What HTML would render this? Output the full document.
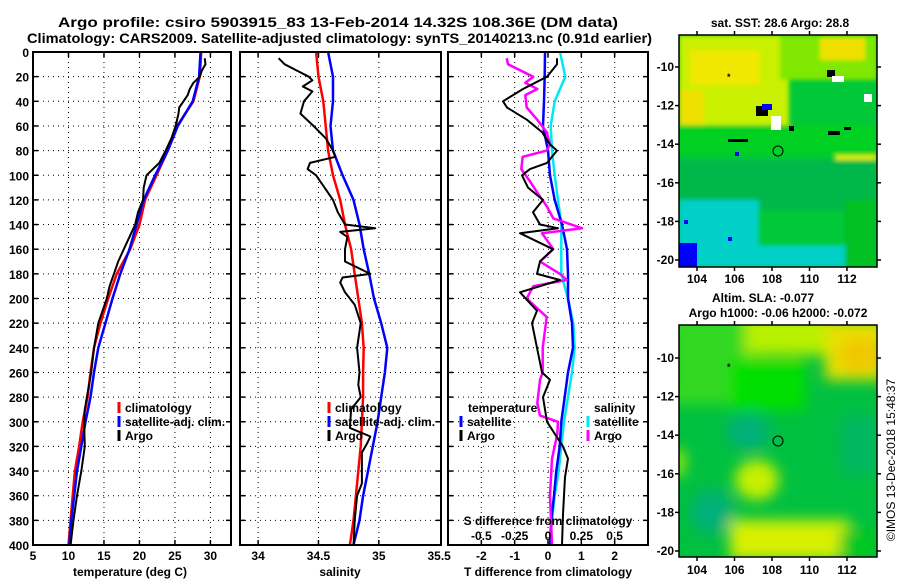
<!DOCTYPE html>
<html><head><meta charset="utf-8">
<style>
html,body{margin:0;padding:0;background:#fff;}
svg{display:block;font-family:"Liberation Sans",sans-serif;font-weight:bold;}
</style></head>
<body>
<svg id="fig" width="900" height="580" viewBox="0 0 900 580" xmlns="http://www.w3.org/2000/svg">
<defs>
<clipPath id="clipP1"><rect x="33" y="52" width="198" height="493"/></clipPath>
<clipPath id="clipP2"><rect x="240" y="52" width="201" height="493"/></clipPath>
<clipPath id="clipP3"><rect x="448" y="52" width="200" height="493"/></clipPath>
<clipPath id="clipM1"><rect x="679" y="35" width="198" height="232"/></clipPath>
<clipPath id="clipM2"><rect x="679" y="325" width="198" height="232"/></clipPath>
<filter id="blur1" x="-20%" y="-20%" width="140%" height="140%"><feGaussianBlur stdDeviation="2"/></filter>
<filter id="blur2" x="-20%" y="-20%" width="140%" height="140%"><feGaussianBlur stdDeviation="7"/></filter>
</defs>
<text x="58" y="27" font-size="14" textLength="560" lengthAdjust="spacingAndGlyphs">Argo profile: csiro 5903915_83 13-Feb-2014 14.32S 108.36E (DM data)</text>
<text x="27" y="43" font-size="14" textLength="625" lengthAdjust="spacingAndGlyphs">Climatology: CARS2009. Satellite-adjusted climatology: synTS_20140213.nc (0.91d earlier)</text>

<g id="maps">
 <text x="780" y="27" font-size="12" text-anchor="middle">sat. SST: 28.6 Argo: 28.8</text>
 <g clip-path="url(#clipM1)">
  <rect x="679" y="35" width="198" height="232" fill="#00c838"/>
  <g filter="url(#blur1)">
   <rect x="679" y="35" width="110" height="95" fill="#c8f000"/>
   <rect x="690" y="50" width="70" height="35" fill="#f0e800"/>
   <rect x="679" y="90" width="25" height="35" fill="#f0e000"/>
   <rect x="780" y="35" width="97" height="45" fill="#80e800"/>
   <rect x="820" y="38" width="45" height="22" fill="#f0e000"/>
   <rect x="835" y="125" width="42" height="35" fill="#e0f000"/>
   <rect x="679" y="125" width="198" height="30" fill="#00d020"/>
   <rect x="679" y="160" width="198" height="50" fill="#00b848"/>
   <rect x="679" y="200" width="80" height="67" fill="#00d0c8"/>
   <rect x="750" y="245" width="95" height="22" fill="#00d0c8"/>
   <rect x="845" y="200" width="32" height="67" fill="#00c020"/>
  </g>
  <rect x="679" y="243" width="18" height="24" fill="#0000ff"/>
  <rect x="756" y="106" width="12" height="10" fill="#000"/>
  <rect x="762" y="104" width="10" height="6" fill="#0000ff"/>
  <rect x="827" y="70" width="8" height="7" fill="#000"/>
  <rect x="728" y="139" width="20" height="3" fill="#000"/>
  <rect x="828" y="131" width="12" height="4" fill="#000"/>
  <rect x="844" y="127" width="7" height="3" fill="#000"/>
  <rect x="771" y="116" width="10" height="14" fill="#fff"/>
  <rect x="832" y="76" width="12" height="6" fill="#fff"/>
  <rect x="864" y="94" width="8" height="8" fill="#fff"/>
  <rect x="789" y="126" width="5" height="5" fill="#000"/>
  <rect x="735" y="152" width="4" height="4" fill="#0000ff"/>
  <rect x="684" y="220" width="4" height="4" fill="#0000ff"/>
  <rect x="728" y="237" width="4" height="4" fill="#0000ff"/>
 </g>
 <rect x="679" y="35" width="198" height="232" fill="none" stroke="#000" stroke-width="1.5"/>
 <circle cx="778" cy="151" r="5" fill="none" stroke="#000" stroke-width="1"/>
 <text x="727" y="80" font-size="9">*</text>
 <text x="763" y="302" font-size="12" text-anchor="middle">Altim. SLA: -0.077</text>
 <text x="778" y="317" font-size="12" text-anchor="middle">Argo h1000: -0.06 h2000: -0.072</text>
 <g clip-path="url(#clipM2)">
  <rect x="679" y="325" width="198" height="232" fill="#00c040"/>
  <g filter="url(#blur2)">
   <rect x="670" y="315" width="80" height="90" fill="#30d820"/>
   <rect x="745" y="315" width="85" height="40" fill="#b8f000"/>
   <rect x="825" y="320" width="60" height="60" fill="#e8e000"/>
   <ellipse cx="860" cy="355" rx="22" ry="18" fill="#f0c800"/>
   <rect x="730" y="360" width="75" height="50" fill="#00e000"/>
   <ellipse cx="748" cy="432" rx="22" ry="18" fill="#00b078"/>
   <ellipse cx="712" cy="512" rx="22" ry="22" fill="#00b078"/>
   <ellipse cx="757" cy="480" rx="22" ry="20" fill="#c8f000"/>
   <rect x="730" y="520" width="120" height="40" fill="#d8f000"/>
   <rect x="840" y="415" width="40" height="60" fill="#00b860"/>
   <rect x="672" y="450" width="12" height="25" fill="#b0f000"/>
   <rect x="840" y="530" width="40" height="30" fill="#00c820"/>
  </g>
 </g>
 <rect x="679" y="325" width="198" height="232" fill="none" stroke="#000" stroke-width="1.5"/>
 <circle cx="778" cy="441" r="5" fill="none" stroke="#000" stroke-width="1"/>
 <text x="727" y="370" font-size="9">*</text>
 <text transform="translate(895,460) rotate(-90)" font-size="12" font-weight="normal" text-anchor="middle">©IMOS 13-Dec-2018 15:48:37</text>
</g>
<g id="chart"></g>
</svg>
<script>
// ---- data ----
const depthTicks = [0,20,40,60,80,100,120,140,160,180,200,220,240,260,280,300,320,340,360,380,400];
const climDepths = [0,20,40,60,80,100,120,140,160,180,200,220,240,260,280,300,320,340,360,380,400];
const tempClim = [28.7,28.5,27.6,25.3,24.0,22.4,20.8,20.0,18.7,16.8,15.6,14.5,13.6,13.1,12.7,12.0,11.5,10.9,10.6,10.3,10.0];
const tempSat = [28.6,28.4,27.5,25.4,24.0,22.2,20.6,19.6,18.6,17.3,16.2,15.2,14.2,13.6,13.1,12.4,11.8,11.2,10.8,10.4,10.1];
const argoTDepths = [5,10,15,20,25,30,35,40,45,50,60,70,80,90,100,110,120,130,140,150,160,170,180,190,200,220,240,260,280,290,300,320,340,360,380,400];
const tempArgo = [29.2,29.3,28.8,28.5,27.6,27.1,26.8,26.2,25.6,25.5,25.1,24.5,23.7,22.8,21.0,20.6,20.5,19.8,19.4,18.6,17.8,17.0,16.4,15.8,15.4,14.2,13.6,13.2,12.6,12.3,12.2,12.3,11.8,11.2,10.7,10.3];
const salClim = [34.48,34.50,34.54,34.56,34.58,34.62,34.68,34.72,34.77,34.80,34.83,34.86,34.875,34.87,34.87,34.86,34.85,34.83,34.81,34.79,34.76];
const salSat = [34.58,34.62,34.62,34.60,34.62,34.70,34.79,34.84,34.875,34.92,34.96,35.02,35.07,35.05,35.02,34.99,34.95,34.91,34.87,34.84,34.79];
const argoSDepths = [5,10,15,20,23,28,32,40,50,60,70,80,85,90,95,100,110,120,130,140,143,146,150,160,170,180,183,187,195,205,220,240,260,270,280,290,305,312,318,325,350,360,380,400];
const salArgo = [34.17,34.22,34.32,34.42,34.45,34.37,34.45,34.38,34.35,34.46,34.56,34.62,34.64,34.43,34.41,34.48,34.55,34.62,34.66,34.72,34.97,34.68,34.74,34.72,34.72,34.93,34.70,34.68,34.72,34.80,34.85,34.82,34.84,34.83,34.85,34.77,34.76,34.93,34.90,34.86,34.86,34.82,34.80,34.79];
const tDiffSat = [-0.09,-0.1,-0.12,-0.15,0.0,0.06,0.2,0.42,0.57,0.6,0.6,0.72,0.75,0.6,0.5,0.4,0.35,0.25,0.18,0.1,0.06];
const sDiffSat = [0.09,0.13,0.05,0.02,0.03,0.05,0.075,0.1,0.1,0.1,0.15,0.19,0.2,0.18,0.15,0.12,0.1,0.08,0.05,0.03,0.015];
const tDiffDepths = [5,10,20,30,40,45,55,65,75,80,90,95,100,110,120,130,140,143,147,160,170,180,185,195,210,220,240,260,266,280,300,320,330,345,375,400];
const tDiffArgo = [0.27,0.27,-0.03,-0.75,-1.35,-1.23,-0.63,-0.18,0.06,0.27,-0.03,-0.54,-0.78,-0.6,-0.15,-0.45,-0.24,0.3,-0.84,0.15,-0.24,-0.33,0.36,-0.84,-0.33,-0.48,-0.33,-0.18,0.06,-0.15,-0.03,0.45,0.6,0.51,0.45,0.42];
const sDiffDepths = [5,10,20,25,30,35,45,55,65,75,80,85,95,105,115,125,135,143,147,160,170,180,185,190,200,215,240,260,266,285,295,300,310,330,360,400];
const sDiffArgo = [-0.31,-0.30,-0.11,-0.17,-0.08,-0.17,-0.16,-0.08,-0.01,0.015,-0.01,-0.19,-0.2,-0.135,-0.075,-0.01,0.04,0.255,-0.045,0.04,-0.06,0.09,0.14,-0.11,-0.16,-0.01,-0.04,-0.04,-0.06,-0.08,-0.06,0.075,0.07,0.03,0.015,0.03];
const tTicks = [5,10,15,20,25,30];
const sTicks = [34,34.5,35,35.5];
const tdTicks = [-2,-1,0,1,2];
const sdTickLabels = ["-0.5","-0.25","0","0.25","0.5"];
const sdTicks = [-0.5,-0.25,0,0.25,0.5];

const NS = "http://www.w3.org/2000/svg";
const root = document.getElementById('chart');
const Y0 = 52, Y1 = 545;
function yScale(d){ return Y0 + d/400*(Y1-Y0); }
function mk(tag, attrs, parent){
  const e = document.createElementNS(NS, tag);
  for (const k in attrs) e.setAttribute(k, attrs[k]);
  (parent||root).appendChild(e); return e;
}
function panel(name, x0, x1, vmin, vmax, ticks, showGridX){
  const g = mk('g', {});
  
  
  const xs = v => x0 + (v - vmin)/(vmax - vmin)*(x1 - x0);
  // grid
  depthTicks.forEach(d => {
    if (d>0 && d<400){
      const l = mk('line', {x1:x0, x2:x1, y1:yScale(d), y2:yScale(d), stroke:'#000', 'stroke-width':1, 'stroke-dasharray':'1,4'}, g);
      
      
    }
    mk('line', {x1:x0, x2:x0+5, y1:yScale(d), y2:yScale(d), stroke:'#000','stroke-width':1.5}, g);
    mk('line', {x1:x1-5, x2:x1, y1:yScale(d), y2:yScale(d), stroke:'#000','stroke-width':1.5}, g);
  });
  ticks.forEach(v => {
    const x = xs(v);
    if (x > x0+2 && x < x1-2){
      const l = mk('line', {x1:x, x2:x, y1:Y0, y2:Y1, stroke:'#000','stroke-width':1,'stroke-dasharray':'1,4'}, g);
      
      
      mk('line', {x1:x, x2:x, y1:Y0, y2:Y0+5, stroke:'#000','stroke-width':1.5}, g);
      mk('line', {x1:x, x2:x, y1:Y1-5, y2:Y1, stroke:'#000','stroke-width':1.5}, g);
    }
  });
  return {g, xs};
}
function line(p, vals, depths, color, w, clip, name){
  const pts = vals.map((v,i) => p.xs(v).toFixed(1)+','+yScale(depths[i]).toFixed(1)).join(' ');
  const e = mk('polyline', {points:pts, fill:'none', stroke:color, 'stroke-width':w, 'stroke-linejoin':'round', 'clip-path':'url(#'+clip+')'}, p.g);
  
  
}
function txt(parent, x, y, s, size, anchor, name){
  const e = mk('text', {x:x, y:y, 'font-size':size, 'text-anchor':anchor||'start'}, parent);
  e.textContent = s;
  
  
  return e;
}
function frame(p, x0, x1){
  mk('rect', {x:x0, y:Y0, width:x1-x0, height:Y1-Y0, fill:'none', stroke:'#000', 'stroke-width':2}, p.g);
}
function legendEntry(parent, x, y, color, label, name){
  const m = mk('line', {x1:x, x2:x, y1:y-10, y2:y+1, stroke:color, 'stroke-width':3}, parent);
  
  
  txt(parent, x+6, y, label, 12, 'start', name);
}

// y tick labels
depthTicks.forEach(d => txt(root, 29, yScale(d)+5, String(d), 12, 'end', 'y-tick-label'));

// Panel 1 temperature
const p1 = panel('temperature-panel', 33, 231, 5, 32.9, tTicks);
line(p1, tempClim, climDepths, '#ff0000', 2.5, 'clipP1', 'temp-climatology-line');
line(p1, tempSat, climDepths, '#0000ff', 2.5, 'clipP1', 'temp-satellite-line');
line(p1, tempArgo, argoTDepths, '#000', 2, 'clipP1', 'temp-argo-line');
frame(p1, 33, 231);
tTicks.forEach(v => txt(root, p1.xs(v), 560, String(v), 12, 'middle', 'temp-x-tick-label'));
txt(root, 130, 576, 'temperature (deg C)', 12, 'middle', 'temp-x-axis-title');
legendEntry(root, 119, 412, '#ff0000', 'climatology', 'legend-climatology');
legendEntry(root, 119, 426, '#0000ff', 'satellite-adj. clim.', 'legend-satellite-adj');
legendEntry(root, 119, 440, '#000', 'Argo', 'legend-argo');

// Panel 2 salinity
const p2 = panel('salinity-panel', 240, 441, 33.85, 35.515, sTicks);
line(p2, salClim, climDepths, '#ff0000', 2.5, 'clipP2', 'sal-climatology-line');
line(p2, salSat, climDepths, '#0000ff', 2.5, 'clipP2', 'sal-satellite-line');
line(p2, salArgo, argoSDepths, '#000', 2, 'clipP2', 'sal-argo-line');
frame(p2, 240, 441);
sTicks.forEach(v => txt(root, p2.xs(v), 560, String(v), 12, 'middle', 'sal-x-tick-label'));
txt(root, 340, 576, 'salinity', 12, 'middle', 'sal-x-axis-title');
legendEntry(root, 329, 412, '#ff0000', 'climatology', 'legend-climatology-2');
legendEntry(root, 329, 426, '#0000ff', 'satellite-adj. clim.', 'legend-satellite-adj-2');
legendEntry(root, 329, 440, '#000', 'Argo', 'legend-argo-2');

// Panel 3 differences
const p3 = panel('difference-panel', 448, 648, -3, 3, tdTicks);
const p3s = {g:p3.g, xs: v => 548 + v*133.3};
line(p3s, sDiffSat, climDepths, '#00e8f0', 2.5, 'clipP3', 'sdiff-satellite-line');
line(p3, tDiffSat, climDepths, '#0000ff', 2.5, 'clipP3', 'tdiff-satellite-line');
line(p3s, sDiffArgo, sDiffDepths, '#ff00ff', 2.5, 'clipP3', 'sdiff-argo-line');
line(p3, tDiffArgo, tDiffDepths, '#000', 2, 'clipP3', 'tdiff-argo-line');
frame(p3, 448, 648);
tdTicks.forEach(v => txt(root, p3.xs(v), 560, String(v), 12, 'middle', 'tdiff-x-tick-label'));
txt(root, 548, 576, 'T difference from climatology', 12, 'middle', 'tdiff-x-axis-title');
txt(root, 548, 525, 'S difference from climatology', 12, 'middle', 'sdiff-axis-title');
sdTicks.forEach((v,i) => txt(root, p3s.xs(v), 540, sdTickLabels[i], 12, 'middle', 'sdiff-tick-label'));
txt(root, 468, 412, 'temperature', 12, 'start', 'legend-temperature-heading');
legendEntry(root, 461, 426, '#0000ff', 'satellite', 'legend-t-satellite');
legendEntry(root, 461, 440, '#000', 'Argo', 'legend-t-argo');
txt(root, 594, 412, 'salinity', 12, 'start', 'legend-salinity-heading');
legendEntry(root, 588, 426, '#00e8f0', 'satellite', 'legend-s-satellite');
legendEntry(root, 588, 440, '#ff00ff', 'Argo', 'legend-s-argo');

// Map axes
const maps = document.getElementById('maps');
const lonTicks = [104,106,108,110,112];
const latTicks = [-10,-12,-14,-16,-18,-20];
[[67,279],[358,570]].forEach(([lat10, ylab], mi) => {
  const top = mi===0 ? 35 : 325, bot = mi===0 ? 267 : 557;
  lonTicks.forEach(lon => {
    const x = 697 + (lon-104)*18.75;
    mk('line', {x1:x, x2:x, y1:top-4, y2:top, stroke:'#000','stroke-width':1.5}, maps);
    mk('line', {x1:x, x2:x, y1:bot, y2:bot+4, stroke:'#000','stroke-width':1.5}, maps);
    txt(maps, x, ylab+4, String(lon), 12, 'middle', 'lon-tick-label');
  });
  latTicks.forEach(lat => {
    const y = lat10 + (-10-lat)*19.3;
    mk('line', {x1:675, x2:679, y1:y, y2:y, stroke:'#000','stroke-width':1.5}, maps);
    mk('line', {x1:877, x2:881, y1:y, y2:y, stroke:'#000','stroke-width':1.5}, maps);
    txt(maps, 674, y+4, String(lat), 12, 'end', 'lat-tick-label');
  });
});
</script>
</body></html>
